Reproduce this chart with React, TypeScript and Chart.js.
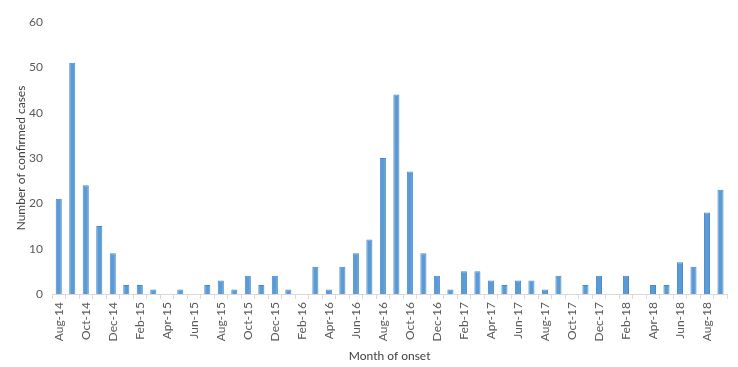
import React, { useEffect, useRef } from "react";
import { Chart, registerables } from "chart.js";

Chart.register(...registerables);

const months: string[] = [
  "Aug-14", "Sep-14", "Oct-14", "Nov-14", "Dec-14",
  "Jan-15", "Feb-15", "Mar-15", "Apr-15", "May-15", "Jun-15", "Jul-15", "Aug-15", "Sep-15", "Oct-15", "Nov-15", "Dec-15",
  "Jan-16", "Feb-16", "Mar-16", "Apr-16", "May-16", "Jun-16", "Jul-16", "Aug-16", "Sep-16", "Oct-16", "Nov-16", "Dec-16",
  "Jan-17", "Feb-17", "Mar-17", "Apr-17", "May-17", "Jun-17", "Jul-17", "Aug-17", "Sep-17", "Oct-17", "Nov-17", "Dec-17",
  "Jan-18", "Feb-18", "Mar-18", "Apr-18", "May-18", "Jun-18", "Jul-18", "Aug-18", "Sep-18",
];

const cases: number[] = [
  21, 51, 24, 15, 9,
  2, 2, 1, 0, 1, 0, 2, 3, 1, 4, 2, 4,
  1, 0, 6, 1, 6, 9, 12, 30, 44, 27, 9, 4,
  1, 5, 5, 3, 2, 3, 3, 1, 4, 0, 2, 4,
  0, 4, 0, 2, 2, 7, 6, 18, 23,
];

const yTitle = "Number of confirmed cases";
const xTitle = "Month of onset";

export default function App() {
  const ref = useRef<HTMLCanvasElement | null>(null);
  useEffect(() => {
    document.body.style.margin = "0";
    if (!ref.current) return;
    const family = "Lato, 'Open Sans', sans-serif";
    const font = { family, size: 12 };
    const titleFont = { family, size: 12, lineHeight: 1.2 };
    const chart = new Chart(ref.current, {
      type: "bar",
      data: {
        labels: months,
        datasets: [
          {
            data: cases,
            backgroundColor: "#5B9BD5",
            borderColor: "#4A88CC",
            borderWidth: 1,
            barPercentage: 0.45,
            categoryPercentage: 1,
          },
        ],
      },
      options: {
        animation: false,
        responsive: false,
        maintainAspectRatio: false,
        layout: { padding: { left: 14, right: 10, top: 22, bottom: 2 } },
        plugins: { legend: { display: false }, tooltip: { enabled: false } },
        scales: {
          x: {
            offset: true,
            afterFit: (axis: any) => { axis.height = 71; },
            grid: { offset: true, drawOnChartArea: false, drawTicks: true, tickLength: 5, color: "#d9d9d9" },
            border: { display: true, color: "#d9d9d9" },
            ticks: {
              autoSkip: false,
              maxRotation: 90,
              minRotation: 90,
              color: "#595959",
              font,
              padding: 3,
              callback: (_v: any, i: number) => (i % 2 === 0 ? months[i] : ""),
            },
            title: { display: true, text: xTitle, color: "#404040", font: titleFont, padding: { top: 4, bottom: 2 } },
          },
          y: {
            min: 0,
            max: 60,
            afterFit: (axis: any) => { axis.width = 38; },
            ticks: { stepSize: 10, color: "#595959", font, padding: 9 },
            grid: { display: false, drawTicks: false },
            border: { display: false },
            title: { display: true, text: yTitle, color: "#404040", font: titleFont, padding: { top: 0, bottom: 4 } },
          },
        },
      },
    });
    return () => chart.destroy();
  }, []);
  return (
    <div style={{ width: 738, height: 367, background: "#fff" }}>
      <canvas ref={ref} width={738} height={367} style={{ display: "block" }} />
    </div>
  );
}
